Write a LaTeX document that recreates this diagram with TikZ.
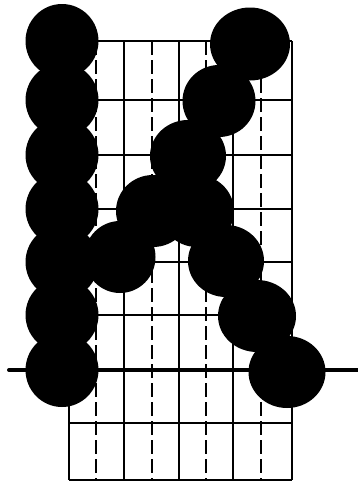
\documentclass[tikz,border=0pt]{standalone}
\begin{document}
\begin{tikzpicture}[x=1pt,y=-1pt,
  gridline/.style={line width=2.2pt},
  dashline/.style={line width=2.4pt,dash pattern=on 14pt off 5pt},
  baseline/.style={line width=4pt,line cap=round},
  blob/.style={fill=black}]
\useasboundingbox (0,0) rectangle (357,482);
% vertical solid lines
\foreach \x in {69,124,179,233,292}
  \draw[gridline] (\x,41) -- (\x,480);
% dashed lines
\foreach \x in {96,152,206,261}
  \draw[dashline] (\x,41) -- (\x,480);
% horizontal lines
\foreach \y in {41,100,155,209,262,315,423,480}
  \draw[gridline] (69,\y) -- (292,\y);
% thick base line
\draw[baseline] (9,370) -- (360,370);
% left column
\foreach \y in {41,100,155,209,262,315,370}
  \fill[blob] (62,\y) ellipse [x radius=36.5, y radius=37];
% diagonal strokes
\fill[blob] (250,44) ellipse [x radius=40, y radius=36.5];
\fill[blob] (219,101) ellipse [x radius=36.5, y radius=36];
\fill[blob] (188,156) ellipse [x radius=38, y radius=36];
\fill[blob] (153,211) ellipse [x radius=37, y radius=36];
\fill[blob] (197,211) ellipse [x radius=37, y radius=36];
\fill[blob] (120,257) ellipse [x radius=35.5, y radius=36];
\fill[blob] (226,261) ellipse [x radius=38, y radius=36];
\fill[blob] (257,316) ellipse [x radius=39, y radius=36];
\fill[blob] (287,372) ellipse [x radius=38.5, y radius=36];
\end{tikzpicture}
\end{document}
